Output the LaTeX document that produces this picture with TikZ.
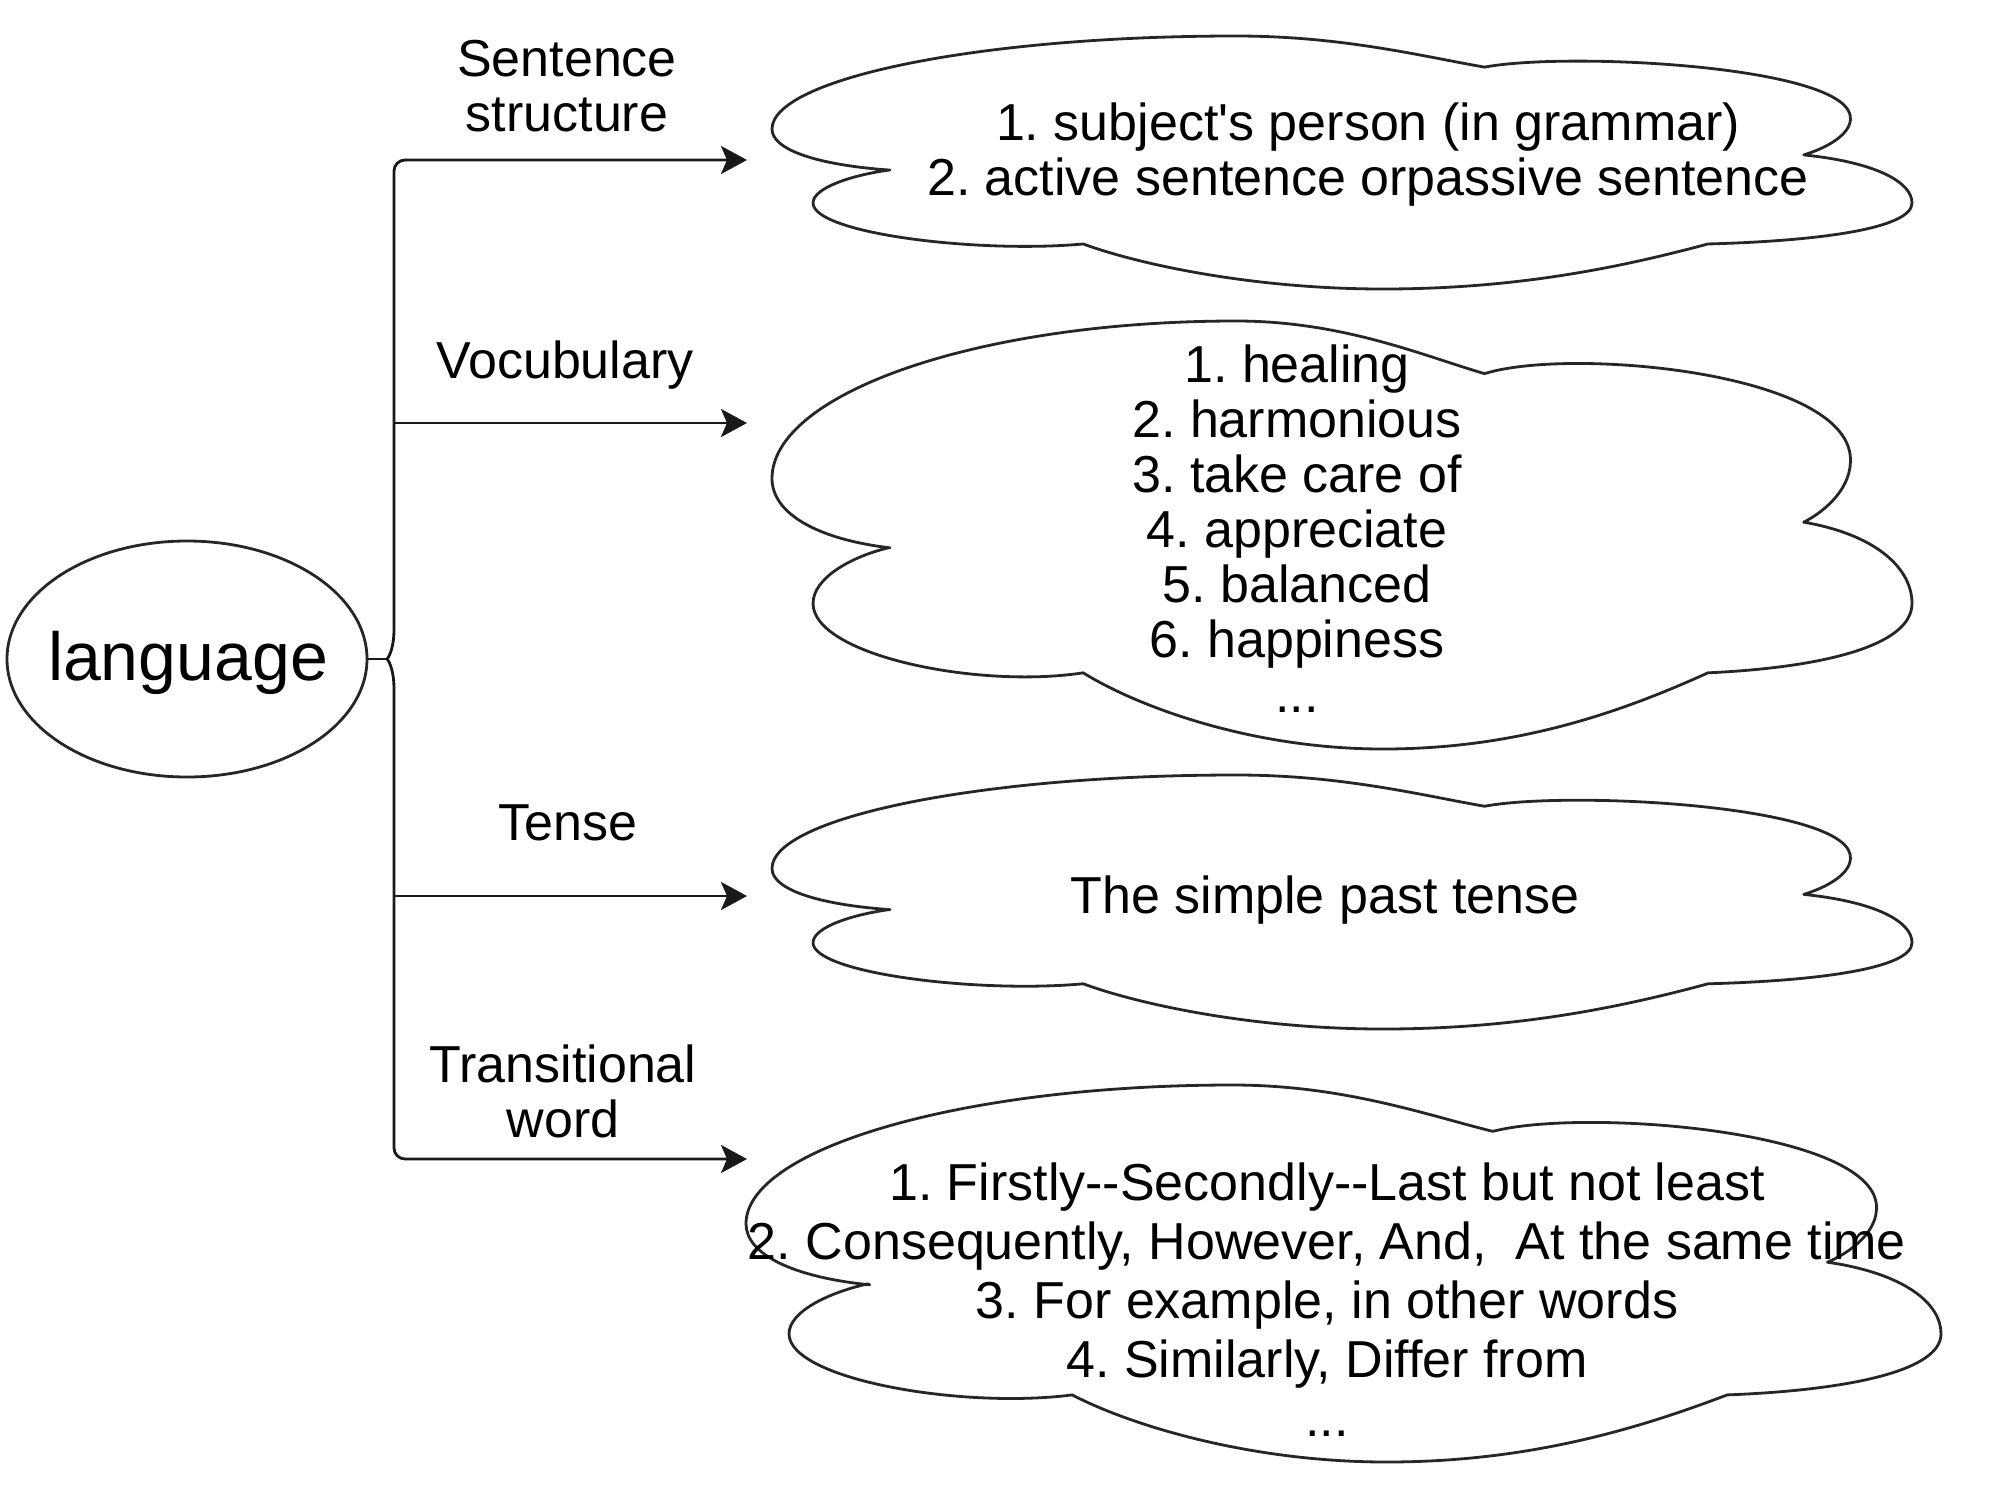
\documentclass[tikz,border=0pt]{standalone}
\usepackage{fontspec}
\setmainfont{Liberation Sans}
\usetikzlibrary{arrows.meta,shapes.geometric}
\frenchspacing
\tikzset{
  cloudline/.style={line width=2.8pt, draw=black!85, line join=round},
  cloud/.pic={\draw[cloudline] (0.1035,0.53) .. controls (0.04,0.51) and (0,0.45) .. (0,0.368)
      .. controls (0,0.17) and (0.18,0) .. (0.407,0)
      .. controls (0.50,0) and (0.57,0.08) .. (0.625,0.123)
      .. controls (0.70,0.06) and (0.95,0.12) .. (0.946,0.33)
      .. controls (0.945,0.40) and (0.92,0.45) .. (0.905,0.47)
      .. controls (0.97,0.50) and (1,0.58) .. (1,0.66)
      .. controls (1,0.76) and (0.92,0.81) .. (0.821,0.822)
      .. controls (0.74,0.92) and (0.65,1) .. (0.536,1)
      .. controls (0.42,1) and (0.32,0.90) .. (0.273,0.822)
      .. controls (0.18,0.86) and (0.036,0.78) .. (0.036,0.66)
      .. controls (0.036,0.60) and (0.07,0.55) .. cycle;},
  conn/.style={line width=2.8pt, draw=black!90},
  arr/.style={conn, -{Stealth[length=26pt,width=28pt,inset=6pt]}},
  lbl/.style={font=\fontsize{52}{55}\selectfont, align=center, inner sep=0pt},
}
\begin{document}
\begin{tikzpicture}[x=1pt,y=-1pt]
\useasboundingbox (0,0) rectangle (2000,1494);
\fill[white] (0,0) rectangle (2000,1494);
% root
\node[ellipse, draw=black!85, line width=2.8pt, minimum width=360pt, minimum height=236pt, inner sep=0pt] (lang) at (187,659) {};
\node[font=\fontsize{68}{70}\selectfont, anchor=base, inner sep=0pt] (langtxt) at (188,680) {language};
% clouds
\begin{scope}[shift={(772,36)},xscale=1140,yscale=253] \pic[transform shape] (c1) {cloud}; \end{scope}
\begin{scope}[shift={(772,321)},xscale=1140,yscale=428] \pic[transform shape] (c2) {cloud}; \end{scope}
\begin{scope}[shift={(772,775)},xscale=1140,yscale=254] \pic[transform shape] (c3) {cloud}; \end{scope}
\begin{scope}[shift={(746,1085)},xscale=1195,yscale=377] \pic[transform shape] (c4) {cloud}; \end{scope}
% cloud texts
\node[lbl] (t1) at (1368,155) {1. subject\textquotesingle s person (in grammar)\\2. active sentence orpassive sentence};
\node[lbl] (t2) at (1297,529) {1. healing\\2. harmonious\\3. take care of\\4. appreciate\\5. balanced\\6. happiness\\...};
\node[lbl] (t3) at (1325,900) {The simple past tense};
\node[lbl, font=\fontsize{52}{59}\selectfont] (t4) at (1327,1300) {1. Firstly\mbox{-}\mbox{-}Secondly\mbox{-}\mbox{-}Last but not least\\2. Consequently, However, And,\ \ At the same time\\3. For example, in other words\\4. Similarly, Differ from\\...};
% branch labels
\node[lbl] (l1) at (567,86) {Sentence\\structure};
\node[lbl, anchor=base] (l2) at (565,378) {Vocubulary};
\node[lbl, anchor=base] (l3) at (568,840) {Tense};
\node[lbl] (l4) at (563,1091) {Transitional\\word};
% connectors
\coordinate (tip) at (387,659);
\coordinate (bT) at (394,630);
\coordinate (bB) at (394,688);
\coordinate (k1) at (394,160);
\coordinate (k2) at (394,423);
\coordinate (k3) at (394,896);
\coordinate (k4) at (394,1159);
\coordinate (e1) at (747,160);
\coordinate (e2) at (747,423);
\coordinate (e3) at (747,896);
\coordinate (e4) at (747,1159);
\draw[conn] (lang.east) -- (tip);
\draw[conn] (tip) .. controls (390,656) and (394,645) .. (bT);
\draw[conn] (tip) .. controls (390,662) and (394,673) .. (bB);
\draw[arr, rounded corners=11pt] (bT) -- (k1) -- (e1);
\draw[arr, rounded corners=11pt] (bB) -- (k4) -- (e4);
\draw[arr] (k2) -- (e2);
\draw[arr] (k3) -- (e3);
\end{tikzpicture}
\end{document}
